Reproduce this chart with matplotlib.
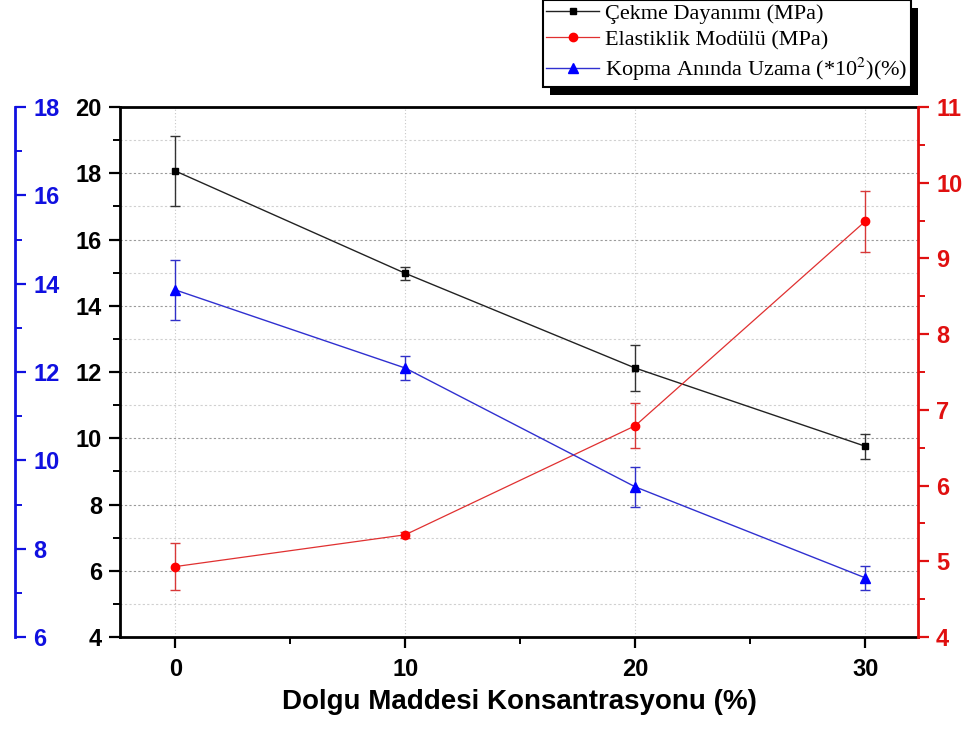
import numpy as np
import matplotlib
matplotlib.use("Agg")
import matplotlib.pyplot as plt
from matplotlib.ticker import MultipleLocator
from matplotlib.patches import Rectangle

# data
konsantrasyon = [0, 10, 20, 30]
cekme = [18.07, 14.98, 12.12, 9.76]
cekme_err = [1.05, 0.2, 0.7, 0.38]
elastiklik = [4.93, 5.35, 6.79, 9.49]
elastiklik_err = [0.31, 0.04, 0.3, 0.4]
uzama = [13.86, 12.09, 9.40, 7.34]
uzama_err = [0.68, 0.27, 0.46, 0.27]

labels = ["Çekme Dayanımı (MPa)", "Elastiklik Modülü (MPa)",
          "Kopma Anında Uzama (*10$^2$)(%)"]

plt.rcParams["mathtext.fontset"] = "stix"
sans = ["Liberation Sans", "DejaVu Sans"]
BLUE = "#1010e0"
RED = "#e01010"

fig = plt.figure(figsize=(9.75, 7.29), dpi=100)
ax = fig.add_axes([0.1231, 0.1262, 0.8185, 0.7270])
ax_r = ax.twinx()
ax_b = ax.twinx()

# black - left axis
ax.errorbar(konsantrasyon, cekme, yerr=cekme_err, fmt="none", ecolor="#333333",
            elinewidth=1, capsize=3.5, capthick=1)
l1, = ax.plot(konsantrasyon, cekme, "-s", color="#222222", lw=1,
              ms=5, mfc="black", mec="black")

# red - right axis
ax_r.errorbar(konsantrasyon, elastiklik, yerr=elastiklik_err, fmt="none",
              ecolor="#d83838", elinewidth=1, capsize=3.5, capthick=1)
l2, = ax_r.plot(konsantrasyon, elastiklik, "-o", color="#e03030", lw=0.9,
                ms=6, mfc="red", mec="red")

# blue - offset left axis
ax_b.errorbar(konsantrasyon, uzama, yerr=uzama_err, fmt="none",
              ecolor="#3030c8", elinewidth=1, capsize=3.5, capthick=1)
l3, = ax_b.plot(konsantrasyon, uzama, "-^", color="#3030d0", lw=1,
                ms=6.5, mfc="blue", mec="blue")

ax.set_xlim(-2.4, 32.3)
ax.set_ylim(4, 20)
ax_r.set_ylim(4, 11)
ax_b.set_ylim(6, 18)

ax.xaxis.set_major_locator(MultipleLocator(10))
ax.xaxis.set_minor_locator(MultipleLocator(5))
ax.yaxis.set_major_locator(MultipleLocator(2))
ax.yaxis.set_minor_locator(MultipleLocator(1))
ax_r.yaxis.set_major_locator(MultipleLocator(1))
ax_r.yaxis.set_minor_locator(MultipleLocator(0.5))
ax_b.yaxis.set_major_locator(MultipleLocator(2))
ax_b.yaxis.set_minor_locator(MultipleLocator(1))

# grid
ax.grid(True, which="major", axis="y", ls=(0, (2, 2)), color="#9a9a9a", lw=0.8)
ax.grid(True, which="minor", axis="y", ls=(0, (2, 2)), color="#d0d0d0", lw=0.8)
ax.grid(True, which="major", axis="x", ls=(0, (1, 2)), color="#c8c8c8", lw=0.8)
ax.set_axisbelow(True)

# spines
for s in ["left", "bottom", "top"]:
    ax.spines[s].set_linewidth(2)
    ax.spines[s].set_color("black")
ax.spines["right"].set_visible(False)
ax_r.spines["right"].set_color(RED)
ax_r.spines["right"].set_linewidth(2)
for s in ["left", "top", "bottom"]:
    ax_r.spines[s].set_visible(False)
    ax_b.spines[s].set_visible(False)
ax_b.spines["right"].set_position(("axes", -0.1316))
ax_b.spines["right"].set_color(BLUE)
ax_b.spines["right"].set_linewidth(2)

ax.tick_params(axis="y", which="major", length=8, width=1.6, labelsize=17,
               direction="out", pad=5)
ax.tick_params(axis="y", which="minor", length=5, width=1.4, direction="out")
ax.tick_params(axis="x", which="major", length=8, width=1.6, labelsize=17,
               direction="out", pad=7)
ax.tick_params(axis="x", which="minor", length=5, width=1.4, direction="out")
ax_r.tick_params(axis="y", which="major", length=8, width=1.6, labelsize=17,
                 colors=RED, pad=5)
ax_r.tick_params(axis="y", which="minor", length=5, width=1.4, colors=RED)
ax_b.tick_params(axis="y", which="major", length=8, width=1.6, labelsize=17,
                 colors=BLUE, pad=5)
ax_b.tick_params(axis="y", which="minor", length=5, width=1.4, colors=BLUE)

for lab in (ax.get_yticklabels() + ax_r.get_yticklabels() + ax_b.get_yticklabels()
            + ax.get_xticklabels()):
    lab.set_family(sans)
    lab.set_fontweight("bold")

ax.set_xlabel("Dolgu Maddesi Konsantrasyonu (%)", family=sans,
              fontweight="bold", fontsize=20, labelpad=6)

leg = ax_b.legend([l1, l2, l3], labels, loc="upper right",
                  bbox_to_anchor=(0.934, 1.0), bbox_transform=fig.transFigure,
                  borderaxespad=0, frameon=True, fancybox=False, framealpha=1,
                  edgecolor="black", handlelength=2.4, handletextpad=0.25,
                  labelspacing=0.26, borderpad=0.15,
                  prop={"family": ["Liberation Serif", "DejaVu Serif"], "size": 16})
leg.get_frame().set_linewidth(1.5)

# black drop shadow behind the legend
fig.canvas.draw()
bb = leg.get_window_extent()
shadow = Rectangle((bb.x0 + 7, bb.y0 - 8), bb.width, bb.height, facecolor="black",
                   edgecolor="none", transform=None, zorder=-1)
fig.add_artist(shadow)
leg.set_zorder(10)

fig.savefig("out.png", dpi=100)
